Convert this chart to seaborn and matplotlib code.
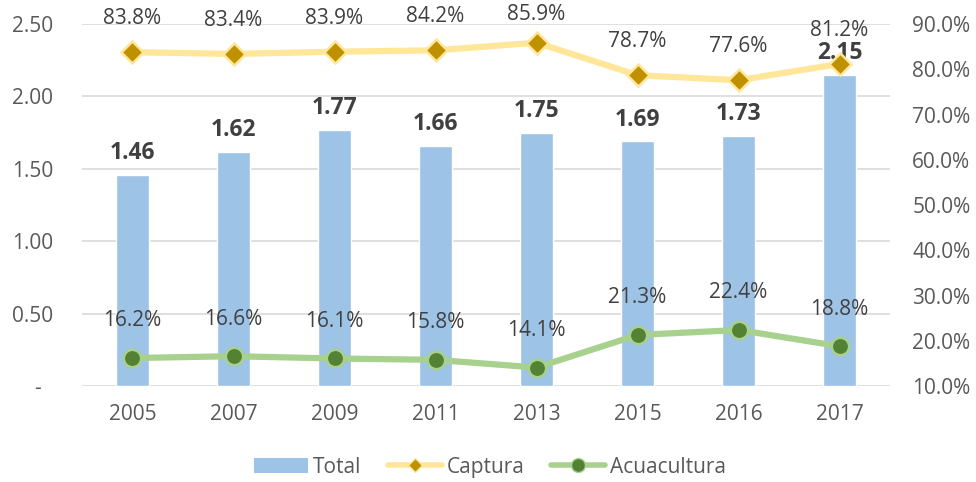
import matplotlib
matplotlib.use("Agg")
import matplotlib.pyplot as plt
import seaborn as sns
import pandas as pd
from matplotlib.lines import Line2D
from matplotlib.patches import Patch

years = ["2005", "2007", "2009", "2011", "2013", "2015", "2016", "2017"]
total = [1.46, 1.62, 1.77, 1.66, 1.75, 1.69, 1.73, 2.15]
captura = [83.8, 83.4, 83.9, 84.2, 85.9, 78.7, 77.6, 81.2]
acuacultura = [16.2, 16.6, 16.1, 15.8, 14.1, 21.3, 22.4, 18.8]
left_ticks = [0, 0.5, 1.0, 1.5, 2.0, 2.5]
left_labels = ["-  ", "0.50", "1.00", "1.50", "2.00", "2.50"]
right_ticks = [10, 20, 30, 40, 50, 60, 70, 80, 90]

df = pd.DataFrame({"year": years, "total": total, "captura": captura, "acuacultura": acuacultura})

sns.set_theme(style="white")
plt.rcParams["font.family"] = ["Open Sans", "DejaVu Sans"]

BAR = "#9DC3E6"
CAP_L, CAP_M = "#FFE699", "#BF9000"
ACU_L, ACU_M = "#A9D18E", "#548235"
TXT = "#595959"
LBL = "#404040"
FS = 15

fig = plt.figure(figsize=(9.76, 4.82), dpi=100)
ax = fig.add_axes([0.084, 0.199, 0.828, 0.751])
ax2 = ax.twinx()

sns.barplot(data=df, x="year", y="total", color=BAR, width=0.32, ax=ax, saturation=1, zorder=2)
ax.set_ylim(0, 2.5)
ax.set_yticks(left_ticks)
ax.set_yticklabels(left_labels)
ax.yaxis.grid(True, color="#D9D9D9", linewidth=1.2, zorder=0)
ax.set_axisbelow(True)
ax.set_xlabel("")
ax.set_ylabel("")
for s in ax.spines.values():
    s.set_visible(False)
for s in ax2.spines.values():
    s.set_visible(False)
ax.tick_params(axis="y", length=0, pad=21, labelsize=FS, labelcolor=TXT)
ax.tick_params(axis="x", length=0, pad=13, labelsize=FS, labelcolor=TXT)
ax.set_xlim(-0.5, len(years) - 0.5)

for c in ax.containers:
    ax.bar_label(c, labels=[f"{v:.2f}" for v in total], padding=7, fontsize=16.5,
                 fontweight="bold", color=LBL)

sns.pointplot(data=df, x="year", y="captura", ax=ax2, color=CAP_L, linewidth=4.5,
              marker="D", markersize=11, markerfacecolor=CAP_M, markeredgecolor=CAP_L,
              markeredgewidth=1.8, zorder=4)
sns.pointplot(data=df, x="year", y="acuacultura", ax=ax2, color=ACU_L, linewidth=4.5,
              marker="o", markersize=12.5, markerfacecolor=ACU_M, markeredgecolor=ACU_L,
              markeredgewidth=1.8, zorder=4)
ax2.set_ylim(10, 90)
ax2.set_yticks(right_ticks)
ax2.set_yticklabels([f"{t:.1f}%" for t in right_ticks])
ax2.tick_params(axis="y", length=0, pad=16, labelsize=FS, labelcolor=TXT)
ax2.set_ylabel("")
ax2.set_xlim(-0.5, len(years) - 0.5)

for i, v in enumerate(captura):
    ax2.text(i, min(v + 7.4, 92.2), f"{v:.1f}%", ha="center", va="center",
             fontsize=FS, color=LBL, clip_on=False)
for i, v in enumerate(acuacultura):
    ax2.text(i, v + 8.2, f"{v:.1f}%", ha="center", va="center",
             fontsize=FS, color=LBL, clip_on=False)

handles = [
    Patch(facecolor=BAR, edgecolor="none"),
    Line2D([], [], color=CAP_L, linewidth=4, marker="D", markersize=7,
           markerfacecolor=CAP_M, markeredgecolor=CAP_L),
    Line2D([], [], color=ACU_L, linewidth=4, marker="o", markersize=10,
           markerfacecolor=ACU_M, markeredgecolor=ACU_L),
]
leg = fig.legend(handles, ["Total", "Captura", "Acuacultura"], loc="center",
                 bbox_to_anchor=(0.502, 0.031), ncol=3, frameon=False, fontsize=FS,
                 handlelength=2.6, handletextpad=0.2, columnspacing=1.3)
for t in leg.get_texts():
    t.set_color(TXT)

fig.savefig("out.png", dpi=100)
